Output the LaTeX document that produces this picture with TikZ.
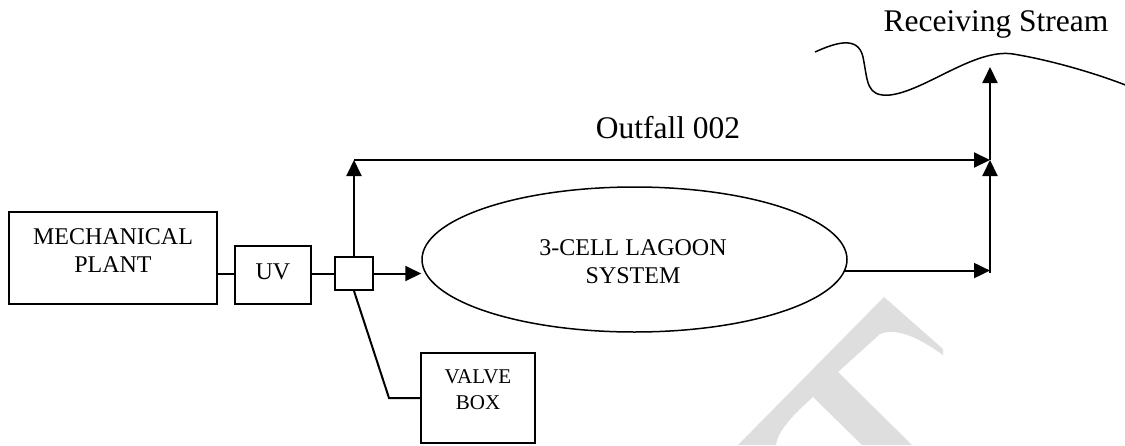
\documentclass[tikz,border=0pt]{standalone}
\usepackage{fontspec}
\setmainfont{Liberation Serif}
\usetikzlibrary{arrows.meta,shapes.geometric}

\tikzset{
  unitbox/.style={draw, line width=2pt, inner sep=0pt},
  boxtext/.style={align=center, inner sep=0pt, font=\fontsize{24}{28}\selectfont},
  smalltext/.style={align=center, inner sep=0pt, font=\fontsize{21}{26}\selectfont},
  bigtext/.style={inner sep=0pt, anchor=base, font=\fontsize{31.5}{36}\selectfont},
  flow/.style={line width=2pt, -{Triangle[length=16pt,width=15pt]}},
  pipe/.style={line width=2pt},
  lagoonshape/.style={draw, ellipse, line width=1.5pt, inner sep=0pt},
  watermark/.style={fill=black!13, draw=none}
}

\begin{document}
\begin{tikzpicture}[x=1pt, y=-1pt]
\useasboundingbox (0,0) rectangle (1125,445);

% faint watermark glyph in the lower right
\path[watermark] (884,297) -- (943,349) -- (943,355)
  .. controls (915,335) and (895,328) .. (880,334)
  -- (838,372) -- (912,445) -- (862,445) -- (813,397)
  .. controls (795,413) and (778,430) .. (776,445)
  -- (738,445) -- cycle;

% process units
\node[unitbox, minimum width=208pt, minimum height=92pt] (mech) at (113,258) {};
\node[boxtext] (mechtxt) at (113,251) {MECHANICAL\\PLANT};
\node[unitbox, minimum width=76pt, minimum height=58pt] (uv) at (273,275) {};
\node[boxtext] (uvtxt) at (273,272) {UV};
\node[unitbox, minimum width=38pt, minimum height=33pt] (split) at (354,273.5) {};
\node[unitbox, minimum width=114pt, minimum height=90pt] (valve) at (478,398) {};
\node[smalltext] (valvetxt) at (478,390) {VALVE\\BOX};
\node[lagoonshape, minimum width=425pt, minimum height=145pt] (lagoon) at (634.5,259.5) {};
\node[boxtext] (lagoontxt) at (633,262) {3-CELL LAGOON\\SYSTEM};

% labels
\node[bigtext] (outfall) at (668,138) {Outfall 002};
\node[bigtext] (stream) at (996,31) {Receiving Stream};

% routing points
\coordinate (corner) at (354,160);
\coordinate (tee) at (990,160);
\coordinate (join) at (990,273);
\coordinate (outlet) at (990,67);
\coordinate (bend) at (389,398);

% receiving stream
\draw[line width=1.5pt] (815,52)
  .. controls (835,43) and (858,35) .. (863,57)
  .. controls (868,82) and (866,97) .. (890,95)
  .. controls (925,91) and (975,48) .. (1013,54)
  .. controls (1050,60) and (1095,73) .. (1128,86);

% piping
\draw[pipe] (uv.west |- split) -- (mech.east |- split);
\draw[pipe] (uv.east |- split) -- (split.west);
\draw[flow] (split.east) -- (split.east -| lagoon.west);
\draw[flow] (split.north) -- (corner);
\draw[flow] (corner) -- (tee);
\draw[pipe] (split.south) -- (bend) -- (bend -| valve.west);
\draw[flow] (lagoon.-3.7) -- (lagoon.-3.7 -| join);
\draw[flow] (join) -- (tee);
\draw[flow] (tee) -- (outlet);
\end{tikzpicture}
\end{document}
